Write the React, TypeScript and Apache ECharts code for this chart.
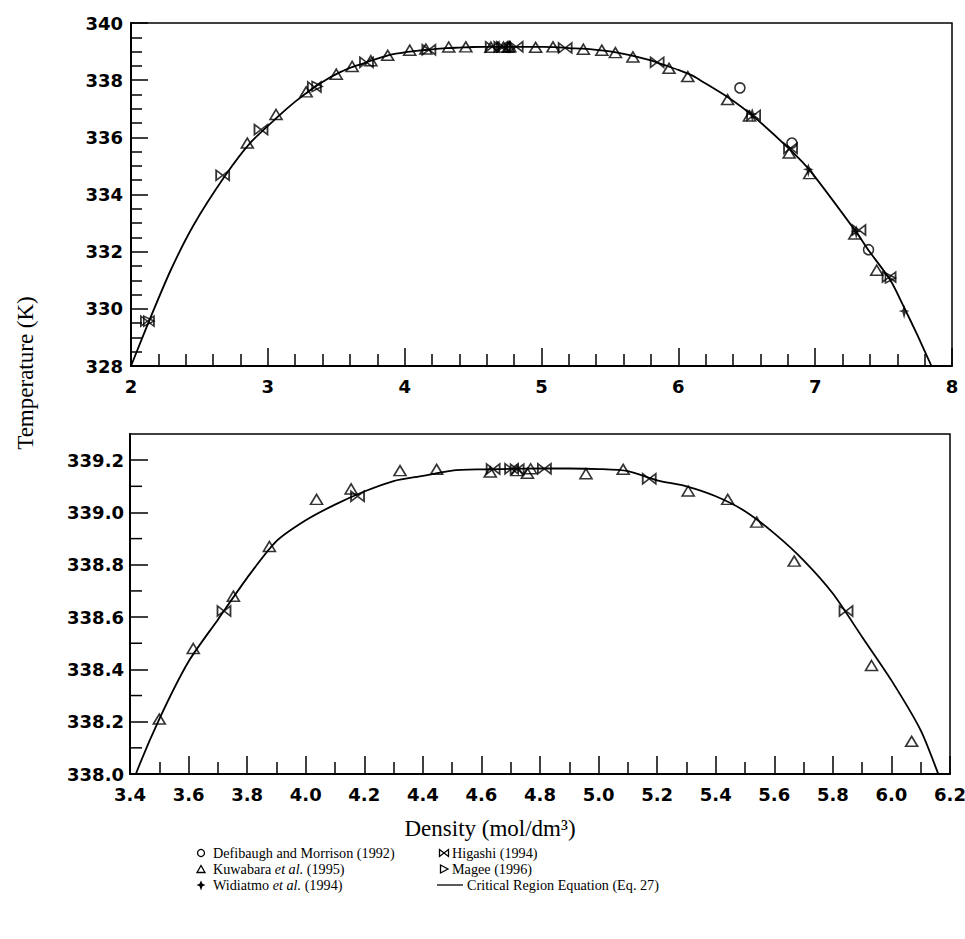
import React, { useEffect, useRef } from "react";
import * as echarts from "echarts";

// ---------- data ----------
const curveDensity = [2.00, 2.13, 2.29, 2.46, 2.69, 2.87, 3.08, 3.20, 3.33, 3.42, 3.50, 3.60, 3.70, 3.80, 3.90, 4.00, 4.10, 4.20, 4.30, 4.40, 4.50, 4.60, 4.70, 4.80, 4.90, 5.00, 5.10, 5.20, 5.30, 5.40, 5.50, 5.60, 5.70, 5.80, 5.90, 6.00, 6.10, 6.16, 6.37, 6.54, 6.82, 6.97, 7.31, 7.39, 7.55, 7.64, 7.75, 7.85];
const curveTemp = [328.00, 329.55, 331.35, 332.95, 334.67, 335.80, 336.75, 337.25, 337.72, 338.00, 338.21, 338.43, 338.59, 338.75, 338.89, 338.97, 339.03, 339.08, 339.12, 339.14, 339.16, 339.165, 339.167, 339.168, 339.168, 339.166, 339.158, 339.123, 339.10, 339.062, 339.005, 338.92, 338.817, 338.69, 338.524, 338.358, 338.167, 338.00, 337.38, 336.77, 335.55, 334.79, 332.62, 332.05, 331.00, 330.15, 329.05, 328.00];

const defibaughDensity = [6.45, 6.83, 7.39];
const defibaughTemp = [337.73, 335.80, 332.07];

const kuwabaraDensity = [2.85, 3.06, 3.28, 3.50, 3.616, 3.753, 3.876, 4.037, 4.155, 4.322, 4.447, 4.63, 4.722, 4.757, 4.768, 4.957, 5.084, 5.306, 5.441, 5.54, 5.668, 5.932, 6.069, 6.36, 6.52, 6.81, 6.96, 7.29, 7.45];
const kuwabaraTemp = [335.80, 336.80, 337.59, 338.21, 338.48, 338.68, 338.87, 339.05, 339.09, 339.16, 339.165, 339.155, 339.16, 339.15, 339.167, 339.148, 339.165, 339.082, 339.05, 338.963, 338.814, 338.415, 338.125, 337.32, 336.75, 335.45, 334.73, 332.62, 331.35];

const widiatmoDensity = [6.54, 6.95, 7.30, 7.65];
const widiatmoTemp = [336.78, 334.85, 332.68, 329.89];

const higashiDensity = [2.12, 2.67, 2.95, 3.34, 3.721, 4.177, 4.64, 4.703, 4.722, 4.815, 5.173, 5.845, 6.55, 6.82, 7.32, 7.54];
const higashiTemp = [329.57, 334.67, 336.27, 337.76, 338.623, 339.062, 339.166, 339.167, 339.165, 339.167, 339.129, 338.623, 336.77, 335.62, 332.76, 331.11];

const mageeDensity = [2.13, 3.36, 7.55];
const mageeTemp = [329.57, 337.78, 331.08];

const topXTicks = [2, 8, 1];
const topYTicks = [328, 340, 2];
const bottomXTicks = [3.4, 6.2, 0.2];
const bottomYLabels = [338.0, 338.2, 338.4, 338.6, 338.8, 339.0, 339.2];
const bottomYMinor = [338.1, 338.3, 338.5, 338.7, 338.9, 339.1];
const bottomYRange = [338.0, 339.3];

const legendLabels = [
  "Defibaugh and Morrison (1992)",
  "Kuwabara {i|et al.} (1995)",
  "Widiatmo {i|et al.} (1994)",
  "Higashi (1994)",
  "Magee (1996)",
  "Critical Region Equation (Eq. 27)",
];
const legendGlyphs = ["circle", "triangle", "star", "bowtie", "rtri", "line"];

const yTitle = "Temperature (K)";
const xTitle = "Density (mol/dm³)";

// ---------- helpers ----------
const zip = (xs: number[], ys: number[]) => xs.map((x, i) => [x, ys[i]]);

const BLACK = "#000";
const labelFont = {
  color: BLACK,
  fontFamily: "DejaVu Sans",
  fontWeight: "bold" as const,
  fontSize: 18,
};

const SYM = {
  triangle: { symbol: "triangle", size: [12, 10], hollow: true },
  circle: { symbol: "circle", size: 10, hollow: true },
  bowtie: { symbol: "path://M0,0L12,10L12,0L0,10Z", size: [13, 10], hollow: true },
  star: { symbol: "path://M5,0L6.6,5L10,6L6.6,7.2L5,14L3.4,7.2L0,6L3.4,5Z", size: [11, 14], hollow: false },
  rtri: { symbol: "path://M0,0L10,5L0,10Z", size: [10, 10], hollow: true },
};

const MINOR_LEN = 12;

function App() {
  const ref = useRef<HTMLDivElement>(null);

  useEffect(() => {
    if (!ref.current) return;
    const chart = echarts.init(ref.current, undefined, { renderer: "svg" });

    const grids = [
      { left: 131, top: 23, width: 821, height: 343 },
      { left: 130, top: 434, width: 820, height: 340 },
    ].map((g) => ({
      ...g,
      show: true,
      borderColor: BLACK,
      borderWidth: 1.5,
      backgroundColor: "transparent",
      containLabel: false,
      outerBoundsMode: "none",
    }));

    const axisLine = { show: true, onZero: false, lineStyle: { color: BLACK, width: 2 } };
    const tickStyle = { color: BLACK, width: 1.5 };

    const xAxes = [
      {
        type: "value",
        gridIndex: 0,
        position: "bottom",
        min: topXTicks[0],
        max: topXTicks[1],
        interval: topXTicks[2],
        axisLine,
        axisTick: { show: true, inside: true, length: 18, lineStyle: tickStyle },
        minorTick: { show: true, splitNumber: 5, length: 12, lineStyle: tickStyle },
        splitLine: { show: false },
        minorSplitLine: { show: false },
        axisLabel: { ...labelFont, margin: 11, formatter: (v: number) => String(Math.round(v)) },
      },
      {
        type: "value",
        gridIndex: 1,
        position: "bottom",
        min: bottomXTicks[0],
        max: bottomXTicks[1],
        interval: bottomXTicks[2],
        axisLine,
        axisTick: { show: true, inside: true, length: 18, lineStyle: tickStyle },
        minorTick: { show: true, splitNumber: 2, length: 12, lineStyle: tickStyle },
        splitLine: { show: false },
        minorSplitLine: { show: false },
        axisLabel: { ...labelFont, margin: 11, formatter: (v: number) => v.toFixed(1) },
      },
    ];

    const yAxes = [
      {
        type: "value",
        gridIndex: 0,
        position: "left",
        min: topYTicks[0],
        max: topYTicks[1],
        interval: topYTicks[2],
        axisLine,
        axisTick: { show: true, inside: true, length: 17, lineStyle: tickStyle },
        minorTick: { show: true, splitNumber: 4, length: 11, lineStyle: tickStyle },
        splitLine: { show: false },
        minorSplitLine: { show: false },
        axisLabel: { ...labelFont, margin: 8, formatter: (v: number) => String(Math.round(v)) },
      },
      {
        type: "value",
        gridIndex: 1,
        position: "left",
        min: bottomYRange[0],
        max: bottomYRange[1],
        axisLine,
        axisTick: { show: true, inside: true, length: 18, lineStyle: tickStyle, customValues: bottomYLabels },
        splitLine: { show: false },
        axisLabel: { ...labelFont, margin: 6, customValues: bottomYLabels, formatter: (v: number) => v.toFixed(1) },
      },
    ];

    const datasets = [
      { name: "Defibaugh", sym: SYM.circle, data: zip(defibaughDensity, defibaughTemp) },
      { name: "Kuwabara", sym: SYM.triangle, data: zip(kuwabaraDensity, kuwabaraTemp) },
      { name: "Widiatmo", sym: SYM.star, data: zip(widiatmoDensity, widiatmoTemp) },
      { name: "Higashi", sym: SYM.bowtie, data: zip(higashiDensity, higashiTemp) },
      { name: "Magee", sym: SYM.rtri, data: zip(mageeDensity, mageeTemp) },
    ];

    const curve = zip(curveDensity, curveTemp);
    const series: any[] = [];
    [0, 1].forEach((g) => {
      series.push({
        type: "line",
        name: "Critical",
        xAxisIndex: g,
        yAxisIndex: g,
        data: curve,
        symbol: "none",
        smooth: 0.25,
        clip: true,
        lineStyle: { color: BLACK, width: 1.8 },
        z: 2,
      });
      datasets.forEach((d) => {
        series.push({
          type: "scatter",
          name: d.name,
          xAxisIndex: g,
          yAxisIndex: g,
          data: d.data,
          symbol: d.sym.symbol,
          symbolSize: d.sym.size,
          clip: true,
          itemStyle: d.sym.hollow
            ? { color: "rgba(0,0,0,0)", borderColor: BLACK, borderWidth: 1.6 }
            : { color: BLACK, borderWidth: 0 },
          z: 3,
        });
      });
    });

    // minor ticks of the lower panel's temperature axis, placed through the axis scale
    series.push({
      type: "custom",
      name: "minorTicks",
      xAxisIndex: 1,
      yAxisIndex: 1,
      silent: true,
      clip: false,
      data: bottomYMinor.map((v) => [bottomXTicks[0], v]),
      renderItem: (_params: any, api: any) => {
        const p = api.coord([api.value(0), api.value(1)]);
        return {
          type: "line",
          shape: { x1: p[0], y1: p[1], x2: p[0] + MINOR_LEN, y2: p[1] },
          style: { stroke: BLACK, lineWidth: 1.5 },
        };
      },
      z: 4,
    });

    // legend as graphics
    const graphics: any[] = [];
    const rowY = [853, 869, 885];
    const cols = [
      { symX: 201, textX: 213 },
      { symX: 444, textX: 452 },
    ];
    const stroke = { fill: "none", stroke: BLACK, lineWidth: 1.3 };
    legendLabels.forEach((label, i) => {
      const col = cols[Math.floor(i / 3)];
      const cy = rowY[i % 3];
      const cx = col.symX;
      const kind = legendGlyphs[i];
      let textX = col.textX;
      if (kind === "circle") {
        graphics.push({ type: "circle", shape: { cx, cy, r: 3.5 }, style: stroke });
      } else if (kind === "triangle") {
        graphics.push({ type: "polygon", shape: { points: [[cx - 4, cy + 3.5], [cx + 4, cy + 3.5], [cx, cy - 3.5]] }, style: stroke });
      } else if (kind === "star") {
        graphics.push({
          type: "polygon",
          shape: { points: [[cx, cy - 4.5], [cx + 1.5, cy - 1.2], [cx + 4.5, cy], [cx + 1.5, cy + 1.2], [cx, cy + 5.5], [cx - 1.5, cy + 1.2], [cx - 4.5, cy], [cx - 1.5, cy - 1.2]] },
          style: { fill: BLACK },
        });
      } else if (kind === "bowtie") {
        graphics.push({ type: "polygon", shape: { points: [[cx - 4.5, cy - 3.5], [cx + 4.5, cy + 3.5], [cx + 4.5, cy - 3.5], [cx - 4.5, cy + 3.5]] }, style: stroke });
      } else if (kind === "rtri") {
        graphics.push({ type: "polygon", shape: { points: [[cx - 3.5, cy - 4], [cx + 4, cy], [cx - 3.5, cy + 4]] }, style: stroke });
      } else if (kind === "line") {
        graphics.push({ type: "line", shape: { x1: cx - 7, y1: cy, x2: cx + 19, y2: cy }, style: { stroke: BLACK, lineWidth: 1.3 } });
        textX = cx + 23;
      }
      graphics.push({
        type: "text",
        x: textX,
        y: cy,
        style: {
          text: label,
          fontFamily: "Liberation Serif",
          fontSize: 14.2,
          fill: BLACK,
          align: "left",
          verticalAlign: "middle",
          rich: { i: { fontStyle: "italic", fontFamily: "Liberation Serif", fontSize: 14.2, fill: BLACK } },
        },
      });
    });

    graphics.push({
      type: "text",
      x: 25,
      y: 373,
      rotation: Math.PI / 2,
      style: { text: yTitle, fontFamily: "Liberation Serif", fontSize: 23, fill: BLACK, align: "center", verticalAlign: "middle" },
    });
    graphics.push({
      type: "text",
      x: 490,
      y: 828,
      style: { text: xTitle, fontFamily: "Liberation Serif", fontSize: 23, fill: BLACK, align: "center", verticalAlign: "middle" },
    });

    chart.setOption({
      animation: false,
      backgroundColor: "#fff",
      grid: grids,
      xAxis: xAxes,
      yAxis: yAxes,
      series,
      graphic: graphics,
      tooltip: { show: false },
    });

    return () => chart.dispose();
  }, []);

  return (
    <div
      ref={ref}
      style={{ position: "absolute", left: 0, top: 0, width: 965, height: 939, background: "#fff" }}
    />
  );
}

export default App;
